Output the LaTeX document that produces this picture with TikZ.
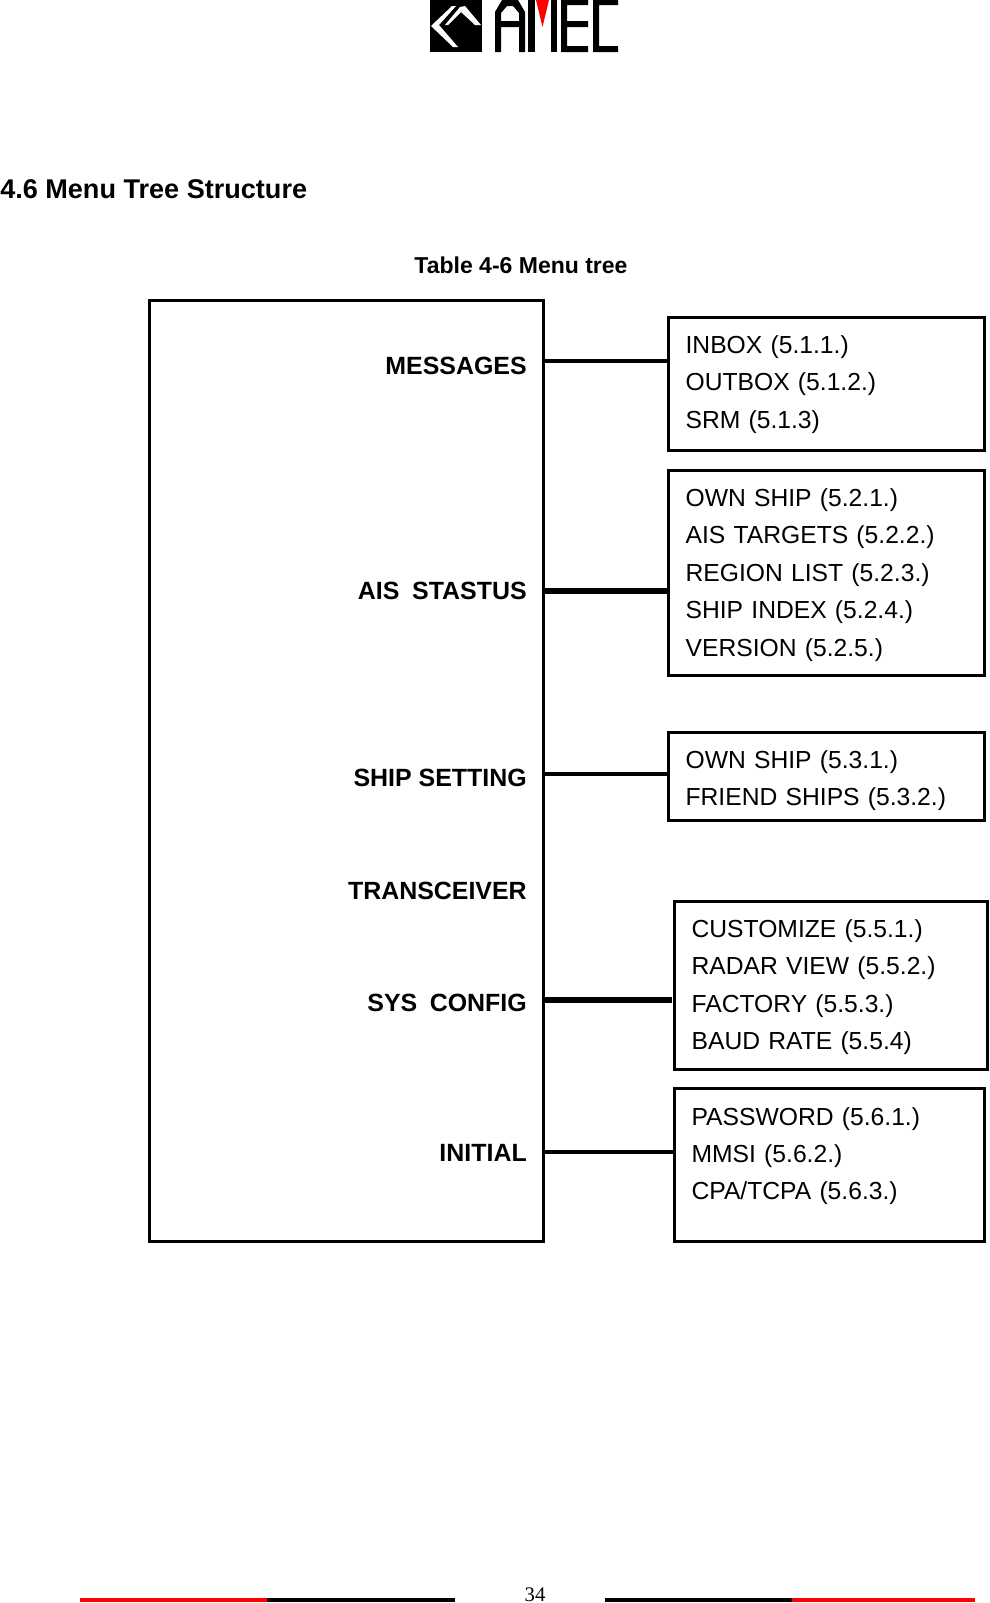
\documentclass[tikz,border=0pt]{standalone}
\usepackage{fontspec}
\setmainfont{Liberation Sans}
\newfontfamily\pagefont{Liberation Serif}
\newcommand{\lead}[1]{\rule{0pt}{#1}}
\tikzstyle{frame} = [draw,line width=2.25pt,rectangle,anchor=north west,outer sep=0pt]
\tikzstyle{menubox} = [frame,align=left,inner xsep=13.2pt,inner ysep=0pt,font=\fontsize{18.5}{28.1}\selectfont]
\tikzstyle{entry} = [anchor=base east,inner sep=0pt,font=\bfseries\fontsize{18.7}{24}\selectfont]
\tikzstyle{link} = [draw,line width=2.5pt]
\tikzstyle{heavy} = [link,line width=3.8pt]
\tikzstyle{rule} = [line width=3.2pt]
\begin{document}
\begin{tikzpicture}[x=0.75pt,y=-0.75pt]
    \useasboundingbox (0,0) rectangle (989,1603);

    % logo
    \fill[black] (430,0) rectangle (481.7,52);
    \fill[white] (431,26) -- (452,6) -- (456,6) -- (439,25) -- (458,47) -- (453,47) -- cycle;
    \fill[white] (445,25) -- (460,7) -- (465,6) -- (481,25) -- (475,25) -- (461,12) -- (448,25) -- cycle;
    \fill[black,even odd rule] (495,12) -- (502,0) -- (518,0) -- (525,12) -- (525,52) -- (519,52) -- (519,27) -- (501,27) -- (501,52) -- (495,52) -- cycle
        (501,21) -- (519,21) -- (519,13) -- (513,6) -- (507,6) -- (501,13) -- cycle;
    \fill[black] (528,0) rectangle (534.5,52);
    \fill[black] (551,0) rectangle (557,52);
    \fill[red] (536,0) -- (549,0) -- (542.5,27) -- cycle;
    \fill[black] (561,0) -- (588,0) -- (588,5) -- (567,5) -- (567,21) -- (588,21) -- (588,27) -- (567,27) -- (567,46) -- (588,46) -- (588,52) -- (561,52) -- cycle;
    \fill[black] (593,0) -- (618,0) -- (618,5) -- (599,5) -- (599,46) -- (618,46) -- (618,52) -- (593,52) -- cycle;

    % headings
    \node[anchor=base west,inner sep=0pt,font=\bfseries\fontsize{20.3}{24}\selectfont] (title) at (0,198) {4.6 Menu Tree Structure};
    \node[anchor=base,inner sep=0pt,font=\bfseries\fontsize{17.25}{20}\selectfont] (caption) at (521,273) {Table 4-6 Menu tree};

    % left column
    \node[frame,minimum width=295.875pt,minimum height=705.75pt,inner sep=0pt] (main) at (149,300) {};
    \node[entry] (messages) at (527,374) {MESSAGES};
    \node[entry] (ais) at (527,599) {AIS\hspace{0.51em}STASTUS};
    \node[entry] (ship) at (527,786) {SHIP SETTING};
    \node[entry] (trans) at (527,899) {TRANSCEIVER};
    \node[entry] (sys) at (527,1011) {SYS\hspace{0.5em}CONFIG};
    \node[entry] (initial) at (527,1161) {INITIAL};

    % right column
    \node[menubox,minimum width=237pt,minimum height=99.75pt,text width=210.6pt] (boxa) at (668,317)
        {\lead{15pt}INBOX (5.1.1.)\\OUTBOX (5.1.2.)\\SRM (5.1.3)};
    \node[menubox,minimum width=237pt,minimum height=153.75pt,text width=210.6pt] (boxb) at (668,470)
        {\lead{16.7pt}OWN SHIP (5.2.1.)\\AIS TARGETS (5.2.2.)\\REGION LIST (5.2.3.)\\SHIP INDEX (5.2.4.)\\VERSION (5.2.5.)};
    \node[menubox,minimum width=237pt,minimum height=66pt,text width=210.6pt] (boxc) at (668,732)
        {\lead{20.5pt}OWN SHIP (5.3.1.)\\FRIEND SHIPS (5.3.2.)};
    \node[menubox,minimum width=234.75pt,minimum height=126pt,text width=208.35pt] (boxd) at (674,901)
        {\lead{16.7pt}CUSTOMIZE (5.5.1.)\\RADAR VIEW (5.5.2.)\\FACTORY (5.5.3.)\\BAUD RATE (5.5.4)};
    \node[menubox,minimum width=232.5pt,minimum height=114.75pt,text width=206.1pt] (boxe) at (674,1088)
        {\lead{25.1pt}PASSWORD (5.6.1.)\\MMSI (5.6.2.)\\CPA/TCPA (5.6.3.)\\\mbox{}};

    % connectors
    \coordinate (ca) at (boxa.west |- 0,361);
    \coordinate (cb) at (boxb.west |- 0,591);
    \coordinate (cc) at (boxc.west |- 0,774);
    \coordinate (cd) at (672,1000);
    \coordinate (ce) at (boxe.west |- 0,1152);
    \draw[link] (main.east |- ca) -- (ca);
    \draw[heavy] (main.east |- cb) -- (cb);
    \draw[link] (main.east |- cc) -- (cc);
    \draw[heavy] (main.east |- cd) -- (cd);
    \draw[link] (main.east |- ce) -- (ce);

    % footer
    \draw[rule,red] (80,1600) -- (267,1600);
    \draw[rule,black] (267,1600) -- (455,1600);
    \draw[rule,black] (605,1600) -- (792,1600);
    \draw[rule,red] (792,1600) -- (975,1600);
    \node[anchor=base,inner sep=0pt,font=\pagefont\fontsize{15.5}{18}\selectfont] (pagenum) at (535,1601) {34};
\end{tikzpicture}
\end{document}
